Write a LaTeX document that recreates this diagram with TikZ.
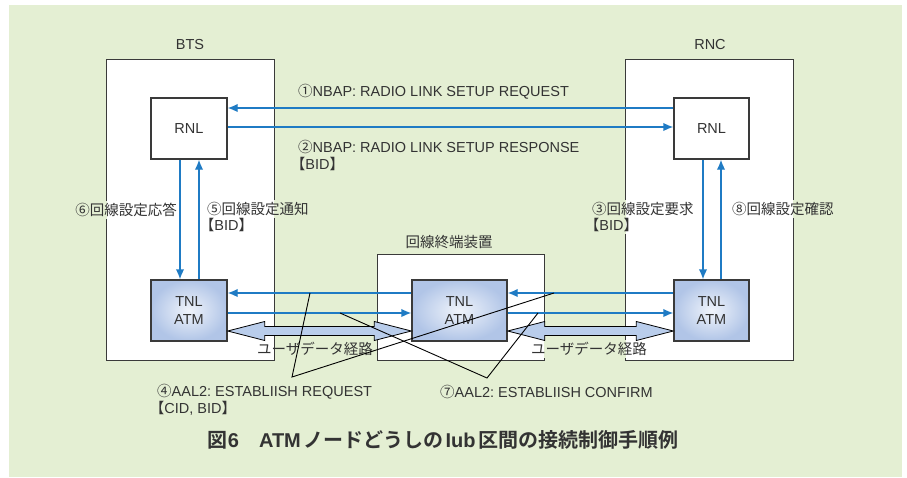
\documentclass[tikz,border=0pt]{standalone}
\usepackage{fontspec}
\setmainfont{Liberation Sans}
\newfontfamily\jpfont{Noto Sans CJK JP}[BoldFont={Noto Sans CJK JP Bold}]
\newfontfamily\jphalf{Noto Sans CJK JP}[RawFeature=+halt]
\newcommand\jp[1]{{\jpfont #1}}
\newcommand\lbr{{\jphalf 【}}
\newcommand\rbr{{\jphalf 】}}
\frenchspacing
\usetikzlibrary{arrows.meta,calc}

\definecolor{bggreen}{HTML}{E4EFD3}
\definecolor{msgblue}{HTML}{1F7BC4}
\definecolor{txtgray}{HTML}{333333}
\definecolor{framegray}{HTML}{3A3A3A}
\definecolor{tnlin}{HTML}{F0F4FB}
\definecolor{tnlout}{HTML}{B1C5E7}
\definecolor{pathfill}{HTML}{B9CDEB}

% double-headed user-data path between two tips (#1 left tip, #2 right tip)
\newcommand\userpath[2]{%
  \draw[bigarrow] (#1) -- ++(37,-9.5) -- ++(0,5)
    -- ($(#2)+(-37,-4.5)$) -- ++(0,-5) -- (#2) -- ++(-37,9.5) -- ++(0,-5)
    -- ($(#1)+(37,4.5)$) -- ++(0,5) -- cycle;}

\begin{document}
\begin{tikzpicture}[x=1pt,y=-1pt,
  every node/.style={text=txtgray},
  lbl/.style={font=\fontsize{14.5}{17}\selectfont, inner sep=2pt},
  framebox/.style={fill=white, draw=none, inner sep=0pt},
  frameline/.style={draw=framegray, line width=1.2pt},
  unitbox/.style={draw=framegray, line width=1.4pt, inner sep=0pt,
    minimum height=61pt, align=center,
    font=\fontsize{14.5}{18}\selectfont},
  rnlbox/.style={unitbox, fill=white},
  tnlbox/.style={unitbox, inner color=tnlin, outer color=tnlout},
  msg/.style={draw=msgblue, line width=1.4pt, -{Latex[length=10pt,width=8.5pt]}},
  bigarrow/.style={draw=black, line width=0.8pt, fill=pathfill, line join=miter},
  callout/.style={draw=black, line width=0.9pt},
]
\useasboundingbox (0,0) rectangle (907,477);
\fill[bggreen] (9,5) rectangle (902,477);

% equipment frames (fill only; outlines drawn later with gaps)
\node[framebox, minimum width=167pt, minimum height=300pt] (bts) at (190.5,210) {};
\node[framebox, minimum width=167pt, minimum height=300pt] (rnc) at (709.5,210) {};
\node[framebox, minimum width=166pt, minimum height=105pt] (mid) at (461,307.5) {};

% frame titles
\node[lbl] (btsname) at (190,45) {BTS};
\node[lbl] (rncname) at (710,45) {RNC};
\node[lbl] (midname) at (449,242) {\jp{回線終端装置}};

% message labels
\node[lbl, anchor=west] (lbl1)  at (296,92)  {\jp{①}NBAP: RADIO LINK SETUP REQUEST};
\node[lbl, anchor=west] (lbl2a) at (296,147) {\jp{②}NBAP: RADIO LINK SETUP RESPONSE};
\node[lbl, anchor=west] (lbl2b) at (296,164) {\lbr BID\rbr};
\node[lbl, anchor=east] (lbl6)  at (179,210) {\jp{⑥回線設定応答}};
\node[lbl, anchor=west] (lbl5a) at (205,209) {\jp{⑤回線設定通知}};
\node[lbl, anchor=west] (lbl5b) at (205,225) {\lbr BID\rbr};
\node[lbl, anchor=west] (lbl3a) at (590,209) {\jp{③回線設定要求}};
\node[lbl, anchor=west] (lbl3b) at (590,225) {\lbr BID\rbr};
\node[lbl, anchor=west] (lbl8)  at (730,209) {\jp{⑧回線設定確認}};
\node[lbl] (ud1) at (315,349) {\jp{ユーザデータ経路}};
\node[lbl] (ud2) at (589,349) {\jp{ユーザデータ経路}};
\node[lbl, anchor=west] (lbl4a) at (155,392) {\jp{④}AAL2: ESTABLIISH REQUEST};
\node[lbl, anchor=west] (lbl4b) at (155,408) {\lbr CID, BID\rbr};
\node[lbl, anchor=west] (lbl7)  at (438,392) {\jp{⑦}AAL2: ESTABLIISH CONFIRM};

% frame outlines, broken where labels cross them
\draw[frameline] (bts.west |- lbl6.north) -- (bts.north west) -- (bts.north east) -- (bts.east |- lbl5a.north);
\draw[frameline] (bts.east |- lbl5a.south) -- (bts.south east) -- (bts.south west) -- (bts.west |- lbl6.south);
\draw[frameline] (rnc.west |- lbl3a.north) -- (rnc.north west) -- (rnc.north east) -- (rnc.east |- lbl8.north);
\draw[frameline] (rnc.east |- lbl8.south) -- (rnc.south east) -- (rnc.south west) -- (rnc.west |- ud2.south);
\draw[frameline] (rnc.west |- ud2.north) -- (rnc.west |- lbl3b.south);
\draw[frameline] (mid.east |- ud2.north) -- (mid.north east) -- (mid.north west) -- (mid.south west) -- (mid.south east) -- (mid.east |- ud2.south);

% protocol layer boxes
\node[rnlbox, minimum width=76pt] (rnlL) at (189,128.5) {RNL};
\node[rnlbox, minimum width=75pt] (rnlR) at (711.5,128.5) {RNL};
\node[tnlbox, minimum width=76pt] (tnlL) at (189,310.5) {TNL\\ATM};
\node[tnlbox, minimum width=95pt] (tnlM) at (459.5,310.5) {TNL\\ATM};
\node[tnlbox, minimum width=75pt] (tnlR) at (711.5,310.5) {TNL\\ATM};

% NBAP signalling
\draw[msg] (rnlR.west |- 0,108) -- (rnlL.east |- 0,108);
\draw[msg] (rnlL.east |- 0,127) -- (rnlR.west |- 0,127);

% internal RNL/TNL signalling
\draw[msg] (rnlL.south -| 180,0) -- (tnlL.north -| 180,0);
\draw[msg] (tnlL.north -| 199,0) -- (rnlL.south -| 199,0);
\draw[msg] (rnlR.south -| 703,0) -- (tnlR.north -| 703,0);
\draw[msg] (tnlR.north -| 721,0) -- (rnlR.south -| 721,0);

% AAL2 signalling
\draw[msg] (tnlM.west |- 0,293) -- (tnlL.east |- 0,293);
\draw[msg] (tnlR.west |- 0,293) -- (tnlM.east |- 0,293);
\draw[msg] (tnlL.east |- 0,313) -- (tnlM.west |- 0,313);
\draw[msg] (tnlM.east |- 0,313) -- (tnlR.west |- 0,313);

% user data paths
\coordinate (p1a) at (tnlL.east |- 0,331);
\coordinate (p1b) at (tnlM.west |- 0,331);
\coordinate (p2a) at (tnlM.east |- 0,331);
\coordinate (p2b) at (tnlR.west |- 0,331);
\userpath{p1a}{p1b}
\userpath{p2a}{p2b}

% callouts for the AAL2 messages
\coordinate (c4)  at (292,377);
\coordinate (c4a) at (310,293);
\coordinate (c4b) at (554,293);
\coordinate (c7)  at (487,378);
\coordinate (c7a) at (340,313);
\coordinate (c7b) at (538,313);
\draw[callout] (c4a) -- (c4) -- (c4b);
\draw[callout] (c7a) -- (c7) -- (c7b);

% caption
\node[font=\fontsize{20}{24}\selectfont\bfseries] (caption) at (443,440)
  {\jp{図}6\jp{　}ATM\hspace{0.12em}\jp{ノードどうしの}\hspace{0.12em}Iub\hspace{0.12em}\jp{区間の接続制御手順例}};
\end{tikzpicture}
\end{document}
